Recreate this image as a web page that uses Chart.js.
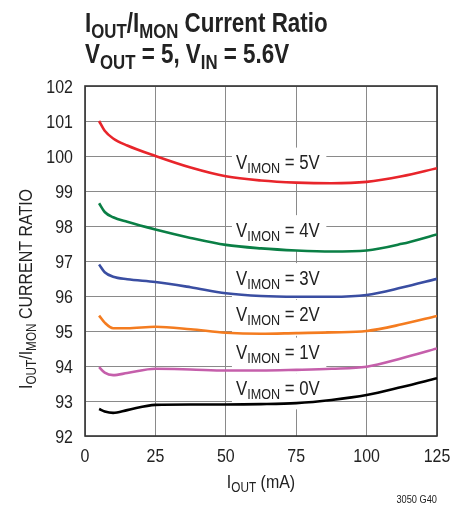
<!DOCTYPE html>
<html>
<head>
<meta charset="utf-8">
<script src="https://cdn.jsdelivr.net/npm/chart.js@4"></script>
<style>
html, body { margin: 0; padding: 0; background: #fff; }
#wrap { width: 450px; height: 506px; }
</style>
</head>
<body>
<div id="wrap"><canvas id="myChart" width="450" height="506"></canvas></div>
<script>
var FONT = '"Liberation Sans", Arial, sans-serif';
var SQUEEZE = 0.84;      // narrow look for the regular text
var SQUEEZE_BOLD = 0.8;  // and for the bold title

// I_OUT (mA)
var iout = [5, 7, 10, 15, 25, 37.5, 50, 62.5, 75, 87.5, 100, 112.5, 125];

// current ratio for each V_IMON
var ratio5V = [101.0, 100.72, 100.5, 100.3, 100.0, 99.67, 99.42, 99.3, 99.24, 99.22, 99.26, 99.42, 99.65];
var ratio4V = [98.65, 98.4, 98.25, 98.12, 97.9, 97.66, 97.46, 97.36, 97.3, 97.27, 97.3, 97.49, 97.76];
var ratio3V = [96.9, 96.68, 96.55, 96.48, 96.4, 96.25, 96.08, 96.0, 95.98, 95.98, 96.03, 96.24, 96.49];
var ratio2V = [95.44, 95.24, 95.08, 95.08, 95.12, 95.05, 94.95, 94.92, 94.94, 94.96, 95.0, 95.19, 95.43];
var ratio1V = [93.97, 93.81, 93.74, 93.8, 93.92, 93.9, 93.87, 93.87, 93.89, 93.92, 93.98, 94.22, 94.5];
var ratio0V = [92.77, 92.7, 92.66, 92.74, 92.89, 92.9, 92.9, 92.91, 92.94, 93.03, 93.17, 93.4, 93.65];

var seriesNames = ['5V', '4V', '3V', '2V', '1V', '0V'];
var seriesData = [ratio5V, ratio4V, ratio3V, ratio2V, ratio1V, ratio0V];
var seriesColors = ['#e8252b', '#0a7f45', '#3a4ea2', '#f47c20', '#c55fab', '#000000'];

// tick labels
var xTickLabels = ['0', '25', '50', '75', '100', '125'];
var yTickLabels = ['92', '93', '94', '95', '96', '97', '98', '99', '100', '101', '102'];

// where the V_IMON labels sit (data units, text centre)
var labelX = 53.6;
var labelY = [99.84, 97.91, 96.54, 95.49, 94.41, 93.39];

// draws text made of normal and subscript parts, squeezed sideways
function drawRich(ctx, parts, x, y, size, weight, align, squeeze) {
    var subSize = Math.round(size * 0.74);
    var total = 0;
    var widths = [];
    for (var i = 0; i < parts.length; i++) {
        ctx.font = weight + ' ' + (parts[i][1] ? subSize : size) + 'px ' + FONT;
        var w = ctx.measureText(parts[i][0]).width;
        widths.push(w);
        total += w;
    }
    var cx = 0;
    if (align === 'center') cx = -total / 2;
    if (align === 'right') cx = -total;
    ctx.save();
    ctx.translate(x, y);
    ctx.scale(squeeze, 1);
    ctx.textAlign = 'left';
    ctx.textBaseline = 'alphabetic';
    for (var j = 0; j < parts.length; j++) {
        ctx.font = weight + ' ' + (parts[j][1] ? subSize : size) + 'px ' + FONT;
        ctx.fillText(parts[j][0], cx, parts[j][1] ? size * 0.2 : 0);
        cx += widths[j];
    }
    ctx.restore();
}

var textPlugin = {
    id: 'textPlugin',
    beforeDatasetsDraw: function(chart) {
        var ctx = chart.ctx;
        var xs = chart.scales.x;
        var ys = chart.scales.y;
        var area = chart.chartArea;
        ctx.save();

        // label boxes that cut the grid
        var bx1 = xs.getPixelForValue(labelX) - 4;
        var bx2 = xs.getPixelForValue(85.7);
        for (var i = 0; i < seriesNames.length; i++) {
            var cy = ys.getPixelForValue(labelY[i]);
            ctx.fillStyle = '#fff';
            ctx.fillRect(bx1, cy - 14, bx2 - bx1, 36);
            ctx.fillStyle = '#222';
            drawRich(ctx, [['V', false], ['IMON', true], [' = ' + seriesNames[i], false]],
                xs.getPixelForValue(labelX), cy + 7.5, 20, 'normal', 'left', SQUEEZE);
        }

        // frame
        ctx.strokeStyle = '#333';
        ctx.lineWidth = 1.6;
        ctx.strokeRect(area.left, area.top, area.right - area.left, area.bottom - area.top);
        ctx.restore();
    },
    afterDraw: function(chart) {
        var ctx = chart.ctx;
        var xs = chart.scales.x;
        var ys = chart.scales.y;
        var area = chart.chartArea;
        ctx.save();
        ctx.fillStyle = '#222';

        // tick labels
        for (var i = 0; i < xTickLabels.length; i++) {
            drawRich(ctx, [[xTickLabels[i], false]], xs.getPixelForValue(Number(xTickLabels[i])),
                area.bottom + 26, 19, 'normal', 'center', SQUEEZE);
        }
        for (var k = 0; k < yTickLabels.length; k++) {
            drawRich(ctx, [[yTickLabels[k], false]], area.left - 12,
                ys.getPixelForValue(Number(yTickLabels[k])) + 7, 19, 'normal', 'right', SQUEEZE);
        }

        // title
        drawRich(ctx, [['I', false], ['OUT', true], ['/I', false], ['MON', true], [' Current Ratio', false]],
            area.left, 32, 28, 'bold', 'left', SQUEEZE_BOLD);
        drawRich(ctx, [['V', false], ['OUT', true], [' = 5, V', false], ['IN', true], [' = 5.6V', false]],
            area.left, 63, 28, 'bold', 'left', SQUEEZE_BOLD);

        // x axis title
        drawRich(ctx, [['I', false], ['OUT', true], [' (mA)', false]],
            (area.left + area.right) / 2, 488, 19, 'normal', 'center', SQUEEZE);

        // y axis title
        ctx.save();
        ctx.translate(32, 289);
        ctx.rotate(-Math.PI / 2);
        drawRich(ctx, [['I', false], ['OUT', true], ['/I', false], ['MON', true], [' CURRENT RATIO', false]],
            0, 0, 19, 'normal', 'center', SQUEEZE);
        ctx.restore();

        // figure code
        drawRich(ctx, [['3050 G40', false]], area.right, 503, 11, 'normal', 'right', SQUEEZE);
        ctx.restore();
    }
};

function buildDatasets() {
    var datasets = [];
    for (var i = 0; i < seriesData.length; i++) {
        var pts = [];
        for (var j = 0; j < iout.length; j++) {
            pts.push({ x: iout[j], y: seriesData[i][j] });
        }
        datasets.push({
            label: 'VIMON = ' + seriesNames[i],
            data: pts,
            borderColor: seriesColors[i],
            borderWidth: 2.6,
            pointRadius: 0,
            fill: false,
            cubicInterpolationMode: 'monotone'
        });
    }
    return datasets;
}

var ctx = document.getElementById('myChart').getContext('2d');
new Chart(ctx, {
    type: 'line',
    data: { datasets: buildDatasets() },
    plugins: [textPlugin],
    options: {
        responsive: false,
        animation: false,
        devicePixelRatio: 1,
        layout: { padding: { top: 86, right: 13, left: 0, bottom: 0 } },
        plugins: {
            legend: { display: false },
            tooltip: { enabled: false },
            title: { display: false }
        },
        scales: {
            x: {
                type: 'linear',
                min: 0,
                max: 125,
                afterFit: function(scale) { scale.height = 70; },
                ticks: { stepSize: 25, display: false },
                grid: { color: '#8a8a8a', lineWidth: 1, drawTicks: false },
                border: { display: false }
            },
            y: {
                min: 92,
                max: 102,
                afterFit: function(scale) { scale.width = 85; },
                ticks: { stepSize: 1, display: false },
                grid: { color: '#8a8a8a', lineWidth: 1, drawTicks: false },
                border: { display: false }
            }
        }
    }
});
</script>
</body>
</html>
